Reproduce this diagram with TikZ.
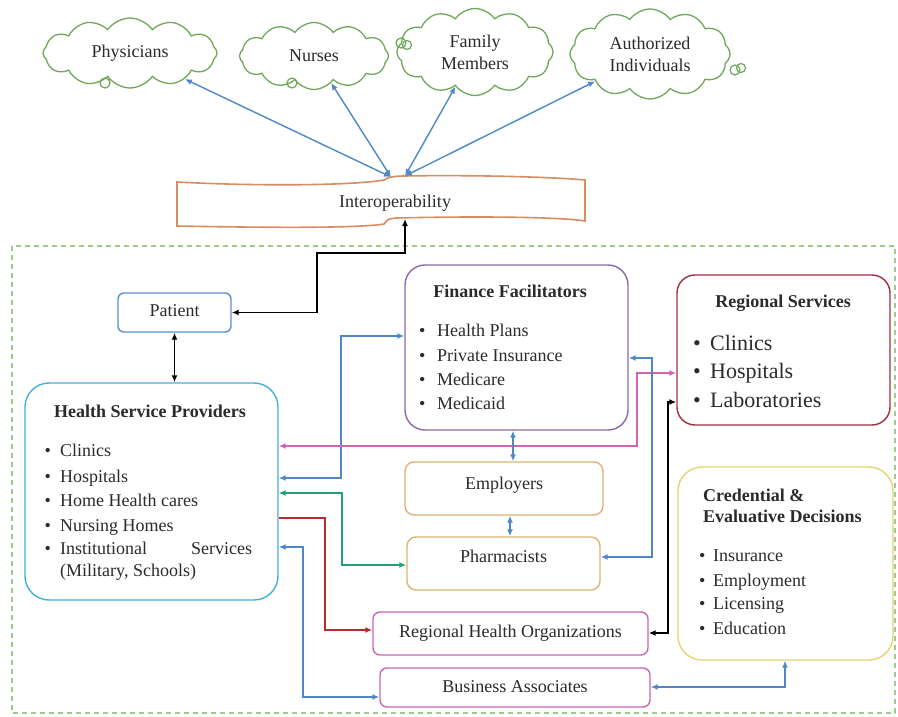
\documentclass[tikz,border=0pt]{standalone}
\usepackage{fontspec}
\setmainfont{Liberation Serif}
\usetikzlibrary{arrows.meta,shapes.symbols,calc}
\definecolor{arrblue}{HTML}{4F88C6}
\definecolor{textgray}{HTML}{2B2B2B}
\definecolor{cloudgreen}{HTML}{6FA85A}
\definecolor{dashgreen}{HTML}{9CCB8C}
\definecolor{interopc}{HTML}{D98C5F}
\definecolor{patc}{HTML}{5B8FD0}
\definecolor{hspc}{HTML}{45AFD8}
\definecolor{finc}{HTML}{8A6AAA}
\definecolor{regc}{HTML}{A03040}
\definecolor{tanc}{HTML}{DDB273}
\definecolor{magc}{HTML}{C766B4}
\definecolor{credc}{HTML}{E3D575}
\definecolor{pinkarr}{HTML}{D262B6}
\definecolor{greenarr}{HTML}{1FA274}
\definecolor{redarr}{HTML}{B02E2E}
\begin{document}
\begin{tikzpicture}[x=1pt,y=-1pt,
  txt/.style={font=\fontsize{18}{22}\selectfont, text=textgray, inner sep=0pt, text height=12.5pt, text depth=4pt},
  bigtxt/.style={font=\fontsize{22}{26}\selectfont, text=textgray, inner sep=0pt, text height=15pt, text depth=5pt},
  ttl/.style={txt, font=\fontsize{18}{22}\selectfont\bfseries},
  box/.style={draw, line width=1.4pt, fill=white, inner sep=0pt},
  cloudnode/.style={cloud, cloud puffs=12, cloud puff arc=110, cloud ignores aspect, draw=cloudgreen, line width=1.3pt, fill=white, inner sep=0pt, align=center, font=\fontsize{18}{22}\selectfont, text=textgray},
  conn/.style={line width=1.4pt, <->, >={Latex[length=7pt,width=6pt]}},
  oneway/.style={line width=1.4pt, ->, >={Latex[length=7pt,width=6pt]}},
]
\useasboundingbox (0,0) rectangle (898,717);
\fill[white] (0,0) rectangle (898,717);

% dashed region
\draw[dashgreen, line width=1.2pt, dash pattern=on 5pt off 4pt] (12,246) rectangle (895,713);

% clouds
\node[cloudnode, minimum width=174pt, minimum height=70pt] (phys) at (130,53) {Physicians};
\node[cloudnode, minimum width=149pt, minimum height=67pt] (nurs) at (314,56) {Nurses};
\node[cloudnode, minimum width=156pt, minimum height=87pt] (fam) at (475,52) {Family\\Members};
\node[cloudnode, minimum width=160pt, minimum height=90pt] (auth) at (650,54) {Authorized\\Individuals};
\begin{scope}[cloudgreen, line width=1.2pt]
\draw (105,83) circle[radius=5pt];
\draw (292,83) circle[radius=5pt];
\draw (401,43) circle[radius=5pt];
\draw (407,45) circle[radius=4.5pt];
\draw (735,70) circle[radius=5pt];
\draw (741,68) circle[radius=4.5pt];
\end{scope}

% interoperability scroll
\draw[interopc, line width=1.6pt, fill=white]
  (177,182) -- (177,226)
  .. controls (280,228) and (360,228) .. (384,224)
  .. controls (388,219) .. (396,218)
  .. controls (480,216) and (560,217) .. (585,221)
  -- (585,180)
  .. controls (540,176) and (450,175) .. (405,176)
  .. controls (395,176) and (388,177) .. (384,180)
  .. controls (350,186) and (250,186) .. (177,182) -- cycle;
\node[txt] (interop) at (395,203) {Interoperability};
\coordinate (itopL) at (391,177);
\coordinate (itopR) at (405,176);
\coordinate (ibot) at (405,219);

\draw[conn, arrblue] (itopL) -- (phys);
\draw[conn, arrblue] (itopL) -- (nurs);
\draw[conn, arrblue] (itopR) -- (fam);
\draw[conn, arrblue] (itopR) -- (auth);

% boxes
\node[box, draw=patc, rounded corners=6pt, minimum width=113pt, minimum height=39pt] (pat) at (174.5,312.5) {};
\node[txt] (patt) at (174.5,312.5) {Patient};

\node[box, draw=hspc, rounded corners=24pt, minimum width=253pt, minimum height=217pt] (hsp) at (151.5,491.5) {};
\node[ttl] (hspt) at (150,413) {Health Service Providers};
\node[txt, anchor=west] (hs1) at (44.5,452) {\makebox[15.5pt][l]{\textbullet}Clinics};
\node[txt, anchor=west] (hs2) at (44.5,478) {\makebox[15.5pt][l]{\textbullet}Hospitals};
\node[txt, anchor=west] (hs3) at (44.5,502) {\makebox[15.5pt][l]{\textbullet}Home Health cares};
\node[txt, anchor=west] (hs4) at (44.5,527) {\makebox[15.5pt][l]{\textbullet}Nursing Homes};
\node[txt, anchor=west] (hs5) at (44.5,550) {\makebox[15.5pt][l]{\textbullet}\makebox[192pt][s]{Institutional\hfill Services}};
\node[txt, anchor=west] (hs6) at (60,572) {(Military, Schools)};

\node[box, draw=finc, rounded corners=20pt, minimum width=223pt, minimum height=165pt] (fin) at (516.5,347.5) {};
\node[ttl] (fint) at (510,293) {Finance Facilitators};
\node[txt, anchor=west] (fi1) at (419,332) {\makebox[18pt][l]{\textbullet}Health Plans};
\node[txt, anchor=west] (fi2) at (419,357) {\makebox[18pt][l]{\textbullet}Private Insurance};
\node[txt, anchor=west] (fi3) at (419,381) {\makebox[18pt][l]{\textbullet}Medicare};
\node[txt, anchor=west] (fi4) at (419,405) {\makebox[18pt][l]{\textbullet}Medicaid};

\node[box, draw=regc, rounded corners=18pt, minimum width=213pt, minimum height=150pt] (reg) at (783.5,350) {};
\node[ttl] (regt) at (783,303) {Regional Services};
\node[bigtxt, anchor=west] (re1) at (693,345) {\makebox[17pt][l]{\textbullet}Clinics};
\node[bigtxt, anchor=west] (re2) at (693,373) {\makebox[17pt][l]{\textbullet}Hospitals};
\node[bigtxt, anchor=west] (re3) at (693,402) {\makebox[17pt][l]{\textbullet}Laboratories};

\node[box, draw=tanc, rounded corners=9pt, minimum width=198pt, minimum height=53pt] (emp) at (504,488.5) {};
\node[txt] (empt) at (504,485) {Employers};
\node[box, draw=tanc, rounded corners=9pt, minimum width=193pt, minimum height=53pt] (pharm) at (503.5,563.5) {};
\node[txt] (pharmt) at (503.5,558) {Pharmacists};

\node[box, draw=magc, rounded corners=7pt, minimum width=275pt, minimum height=43pt] (rho) at (510.5,633.5) {};
\node[txt] (rhot) at (510.5,633) {Regional Health Organizations};
\node[box, draw=magc, rounded corners=7pt, minimum width=270pt, minimum height=39pt] (ba) at (515,687.5) {};
\node[txt] (bat) at (515,688) {Business Associates};

\node[box, draw=credc, rounded corners=24pt, minimum width=215pt, minimum height=193pt] (cred) at (785.5,563.5) {};
\node[ttl, anchor=west] (credt1) at (703,497) {Credential \&};
\node[ttl, anchor=west] (credt2) at (703,518) {Evaluative Decisions};
\node[txt, anchor=west] (cr1) at (699,557) {\makebox[14pt][l]{\textbullet}Insurance};
\node[txt, anchor=west] (cr2) at (699,582) {\makebox[14pt][l]{\textbullet}Employment};
\node[txt, anchor=west] (cr3) at (699,605) {\makebox[14pt][l]{\textbullet}Licensing};
\node[txt, anchor=west] (cr4) at (699,630) {\makebox[14pt][l]{\textbullet}Education};

% connectors
\draw[conn, black] (ibot) -- (405,253) -- (317,253) |- (pat.east);
\draw[conn, black] (pat.south) -- (hsp.north -| pat.south);
\draw[conn, arrblue] (hsp.east |- 0,478) -- (341,478) |- (fin.west |- 0,336);
\draw[conn, pinkarr] (hsp.east |- 0,446) -- (637,446) |- (reg.west |- 0,373);
\draw[conn, arrblue] (fin.east |- 0,358) -- (652,358) |- (pharm.east |- 0,557);
\draw[conn, black] (reg.west |- 0,402) -- (668,402) |- (rho.east |- 0,633);
\draw[conn, greenarr] (hsp.east |- 0,493) -- (342,493) |- (pharm.west |- 0,565);
\draw[oneway, redarr] (hsp.east |- 0,518) -- (325,518) |- (rho.west |- 0,630);
\draw[conn, arrblue] (hsp.east |- 0,547) -- (303,547) |- (ba.west |- 0,697);
\draw[conn, arrblue] (fin.south -| 513,0) -- (emp.north -| 513,0);
\draw[conn, arrblue] (emp.south -| 510,0) -- (pharm.north -| 510,0);
\draw[conn, arrblue] (ba.east |- 0,687) -| (cred.south -| 785,0);
\end{tikzpicture}
\end{document}
